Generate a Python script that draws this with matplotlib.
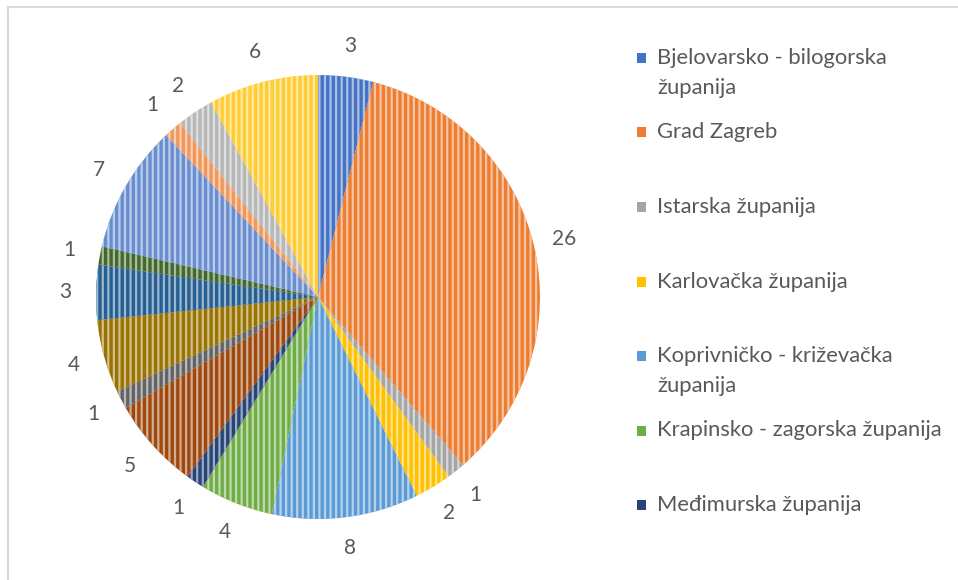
import matplotlib
import matplotlib.pyplot as plt
from matplotlib.colors import to_rgb
from matplotlib.lines import Line2D
from matplotlib.patches import Rectangle

matplotlib.use('Agg')

plt.rcParams['font.family'] = ['Lato', 'DejaVu Sans']
plt.rcParams['hatch.linewidth'] = 1.6

# Counts per county, clockwise from the top
counts = [3, 26, 1, 2, 8, 4, 1, 5, 1, 4, 3, 1, 7, 1, 2, 6]

# Only the first seven entries are visible in the legend
legend_labels = [
    'Bjelovarsko - bilogorska\nžupanija',
    'Grad Zagreb',
    'Istarska županija',
    'Karlovačka županija',
    'Koprivničko - križevačka\nžupanija',
    'Krapinsko - zagorska županija',
    'Međimurska županija',
]

# Office palette: accents, then darker shades, then lighter tints
colors = ['#4472C4', '#ED7D31', '#A5A5A5', '#FFC000', '#5B9BD5', '#70AD47',
          '#264478', '#9E480E', '#636363', '#997300', '#255E91', '#43682B',
          '#698ED0', '#F1975A', '#B7B7B7', '#FFCD33']

text_color = '#595959'


def lighter(c, amount=0.55):
    r, g, b = to_rgb(c)
    return (r + (1 - r) * amount, g + (1 - g) * amount, b + (1 - b) * amount)


fig = plt.figure(figsize=(9.58, 5.80), dpi=100)

# pie placed so the disc has centre (318, 297) px and radius 222 px
cx, cy, rad = 318, 297, 222
ax = fig.add_axes([(cx - rad) / 958, (580 - cy - rad) / 580, 2 * rad / 958, 2 * rad / 580])

wedges, texts = ax.pie(counts, colors=colors, startangle=90, counterclock=False,
                       labels=[str(c) for c in counts], labeldistance=1.14,
                       textprops=dict(fontsize=15, color=text_color))
for t in texts:
    t.set_horizontalalignment('center')
    t.set_verticalalignment('center')

# vertical stripe texture
for w, c in zip(wedges, colors):
    w.set_edgecolor(lighter(c))
    w.set_linewidth(0)
    w.set_hatch('|||')

ax.set_xlim(-1, 1)
ax.set_ylim(-1, 1)

# legend drawn by hand so entries keep even spacing like the original
top_y = 58
step = 74.5
for i, (lab, c) in enumerate(zip(legend_labels, colors)):
    y_px = top_y + i * step
    fig.patches.append(Rectangle((637 / 958, 1 - (y_px + 5) / 580), 9 / 958, 10 / 580,
                                 transform=fig.transFigure, facecolor=c, linewidth=0))
    for j, line in enumerate(lab.split('\n')):
        fig.text(657 / 958, 1 - (y_px + j * 30) / 580, line, ha='left', va='center',
                 fontsize=15.8, color=text_color)

# chart area border (top and left visible)
fig.add_artist(Line2D([8 / 958, 8 / 958], [0, 1 - 7 / 580], color='#D9D9D9', lw=1.5))
fig.add_artist(Line2D([8 / 958, 1], [1 - 7 / 580, 1 - 7 / 580], color='#D9D9D9', lw=1.5))

fig.savefig('out.png', dpi=100)
plt.close(fig)
